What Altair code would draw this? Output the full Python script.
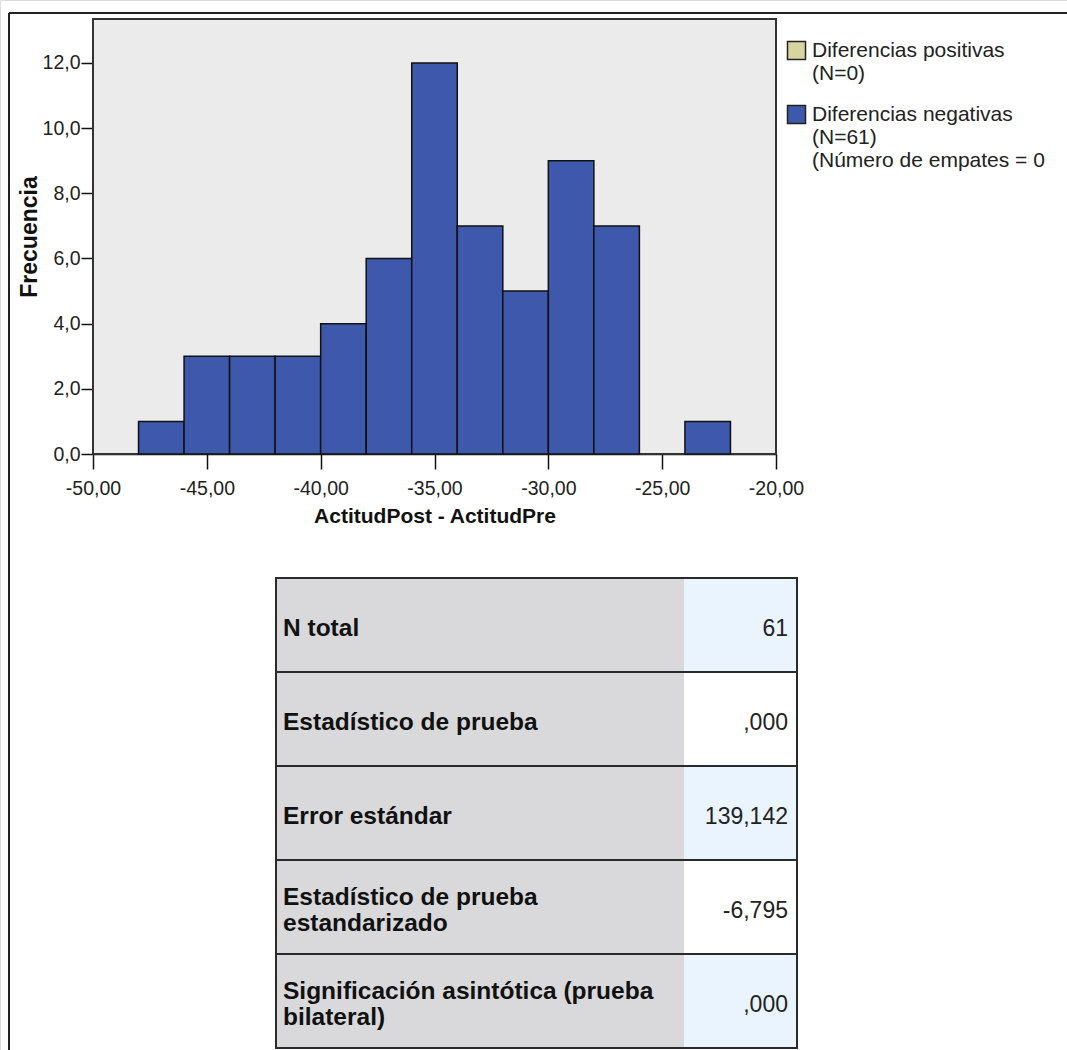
import altair as alt
import pandas as pd

# Paired differences ActitudPost - ActitudPre, grouped in bins of width 2
bin_starts = [-48, -46, -44, -42, -40, -38, -36, -34, -32, -30, -28, -26, -24]
bin_counts = [1, 3, 3, 3, 4, 6, 12, 7, 5, 9, 7, 0, 1]
BIN_WIDTH = 2

x_ticks = [-50, -45, -40, -35, -30, -25, -20]
y_ticks = [0, 2, 4, 6, 8, 10, 12]

# Legend entries ("|" marks a line break)
legend_entries = [
    "Diferencias positivas|(N=0)",
    "Diferencias negativas|(N=61)|(Número de empates = 0",
]

# Test summary table
stat_labels = [
    "N total",
    "Estadístico de prueba",
    "Error estándar",
    "Estadístico de prueba|estandarizado",
    "Significación asintótica (prueba|bilateral)",
]
stat_values = ["61", ",000", "139,142", "-6,795", ",000"]

# ---- layout and style ----
W, H = 1067, 1050
PLOT_L, PLOT_R, PLOT_T, PLOT_B = 93, 776, 19, 454
Y_MAX = 13.35
TAB_L, TAB_R, TAB_T, TAB_B = 276, 797, 578, 1048
TAB_SPLIT = (684 - TAB_L) / (TAB_R - TAB_L)
TAB_LINE = 26

FONT = "Liberation Sans"
BAR_BLUE = "#3E58AB"
POS_BEIGE = "#D8D4A0"
PANEL_GRAY = "#EBEBEB"
CELL_GRAY = "#D9D9DB"
CELL_TINT = "#EAF4FE"
INK = "#222222"

hist = pd.DataFrame({
    "start": bin_starts,
    "end": [s + BIN_WIDTH for s in bin_starts],
    "count": bin_counts,
    "sign": legend_entries[1],
})

x_scale = alt.Scale(domain=[x_ticks[0], x_ticks[-1]], range=[PLOT_L, PLOT_R], nice=False, zero=False)
y_scale = alt.Scale(domain=[0, Y_MAX], range=[PLOT_B, PLOT_T], nice=False, zero=False)

x_axis = alt.Axis(
    values=x_ticks, orient="bottom", offset=PLOT_B - H, grid=False,
    labelExpr="(datum.value < 0 ? '-' : '') + replace(format(abs(datum.value), '.2f'), '.', ',')",
    labelFlush=False, labelOverlap=False, labelFont=FONT, labelFontSize=19.5, labelColor=INK,
    labelPadding=10, tickSize=15, tickColor="#111", tickWidth=1.5,
    domainColor="#111", domainWidth=1.5,
    title="ActitudPost - ActitudPre", titleFont=FONT, titleFontSize=21, titleFontWeight="bold",
    titleColor="#111", titlePadding=8,
)
y_axis = alt.Axis(
    values=y_ticks, orient="left", offset=-PLOT_L, grid=False,
    labelExpr="replace(format(datum.value, '.1f'), '.', ',')",
    labelFlush=False, labelOverlap=False, labelFont=FONT, labelFontSize=19.5, labelColor=INK,
    labelPadding=1, tickSize=12, tickColor="#111", tickWidth=1.5,
    domainColor="#111", domainWidth=1.5,
    title="Frecuencia", titleFont=FONT, titleFontSize=23, titleFontWeight="bold",
    titleColor="#111", titlePadding=1,
)

panel = pd.DataFrame({"x0": [x_ticks[0]], "x1": [x_ticks[-1]], "y0": [0], "y1": [Y_MAX]})

background = alt.Chart(panel).mark_rect(fill=PANEL_GRAY).encode(
    x=alt.X("x0:Q", scale=x_scale, axis=x_axis),
    x2="x1:Q",
    y=alt.Y("y0:Q", scale=y_scale, axis=y_axis),
    y2="y1:Q",
)
panel_edge = alt.Chart(panel).mark_rect(fillOpacity=0, stroke="#333", strokeWidth=2).encode(
    x="x0:Q", x2="x1:Q", y="y0:Q", y2="y1:Q"
)

bars = alt.Chart(hist).transform_filter("datum.count > 0").mark_rect(
    stroke="#111", strokeWidth=1.5
).encode(
    x="start:Q",
    x2="end:Q",
    y="count:Q",
    y2=alt.datum(0),
    color=alt.Color(
        "sign:N",
        scale=alt.Scale(domain=legend_entries, range=[POS_BEIGE, BAR_BLUE]),
        legend=alt.Legend(
            orient="none", legendX=786, legendY=40, padding=0, title=None,
            labelExpr="split(datum.label, '|')",
            labelFont=FONT, labelFontSize=21, labelColor=INK, labelBaseline="middle",
            labelOffset=5, labelLimit=400,
            symbolType="square", symbolSize=324, symbolStrokeColor="#222",
            symbolStrokeWidth=1.5, symbolOpacity=1, rowPadding=18,
        ),
    ),
)

histogram = alt.layer(background, panel_edge, bars)

# ---- summary table ----
table = pd.DataFrame({
    "row": stat_labels,
    "value": stat_values,
    "i": list(range(len(stat_labels))),
    "x0": 0.0,
    "xs": TAB_SPLIT,
    "x1": 1.0,
})
tx = alt.Scale(domain=[0, 1], range=[TAB_L, TAB_R], nice=False, zero=False)
ty = alt.Scale(domain=stat_labels, range=[TAB_T, TAB_B], paddingInner=0, paddingOuter=0)
row_y = alt.Y("row:N", sort=stat_labels)

label_cells = alt.Chart(table).mark_rect(fill=CELL_GRAY).encode(
    x=alt.X("x0:Q", scale=tx, axis=None),
    x2="xs:Q",
    y=alt.Y("row:N", scale=ty, axis=None, sort=stat_labels),
)
value_cells = alt.Chart(table).mark_rect().encode(
    x="xs:Q",
    x2="x1:Q",
    y=row_y,
    fill=alt.condition("datum.i % 2 == 0", alt.value(CELL_TINT), alt.value("#FFFFFF")),
)
row_lines = alt.Chart(table).mark_rect(fillOpacity=0, stroke="#2A2A2A", strokeWidth=2).encode(
    x="x0:Q", x2="x1:Q", y=row_y
)

label_style = dict(
    align="left", baseline="middle", dx=7, font=FONT, fontWeight="bold",
    fontSize=24.5, lineBreak="|", lineHeight=TAB_LINE, color="#111",
)
label_single = alt.Chart(table).transform_filter(
    "indexof(datum.row, '|') < 0"
).mark_text(dy=4, **label_style).encode(x="x0:Q", y=row_y, text="row:N")
label_double = alt.Chart(table).transform_filter(
    "indexof(datum.row, '|') >= 0"
).mark_text(dy=4 - TAB_LINE / 2, **label_style).encode(x="x0:Q", y=row_y, text="row:N")

value_text = alt.Chart(table).mark_text(
    align="right", baseline="middle", dx=-9, dy=4, font=FONT, fontSize=23, color=INK,
).encode(x="x1:Q", y=row_y, text="value:N")

summary = alt.layer(label_cells, value_cells, row_lines, label_single, label_double, value_text)

# ---- outer frame ----
one = pd.DataFrame({"k": [0]})
frame_top = alt.Chart(one).mark_rule(color="#222", strokeWidth=2).encode(
    x=alt.value(9), x2=alt.value(W), y=alt.value(13)
)
frame_left = alt.Chart(one).mark_rule(color="#222", strokeWidth=2).encode(
    x=alt.value(9), y=alt.value(13), y2=alt.value(H)
)

chart = alt.layer(histogram, summary, frame_top, frame_left).resolve_scale(
    x="independent", y="independent"
).properties(
    width=W, height=H, padding=0, autosize=alt.AutoSizeParams(type="none"),
    background="white",
).configure_view(stroke=None).configure(font=FONT)

chart.save("out.html", embed_options={"renderer": "svg", "actions": False})
